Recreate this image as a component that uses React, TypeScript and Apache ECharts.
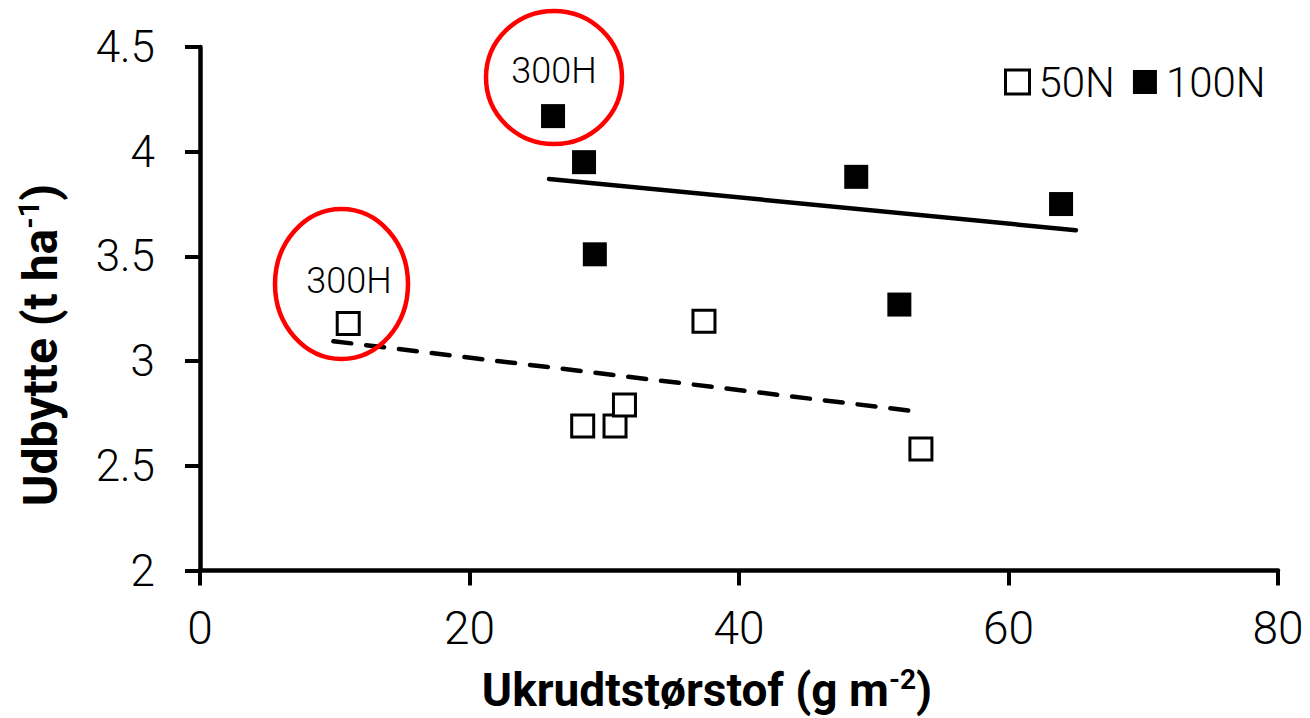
import React, { useEffect, useRef } from "react";
import * as echarts from "echarts";

const xTicks = [0, 20, 40, 60, 80];
const yTicks = [2, 2.5, 3, 3.5, 4, 4.5];

const seriesNames = ["50N", "100N"];
const n50X = [11.0, 28.4, 30.8, 31.5, 37.4, 53.5];
const n50Y = [3.18, 2.69, 2.69, 2.79, 3.19, 2.58];
const n100X = [26.2, 28.5, 29.3, 48.7, 51.9, 63.9];
const n100Y = [4.17, 3.95, 3.51, 3.88, 3.27, 3.75];

const trend50X = [9.9, 53.1];
const trend50Y = [3.095, 2.76];
const trend100X = [25.9, 65.0];
const trend100Y = [3.87, 3.625];

const annotationText = "300H";
const xTitle = ["Ukrudtstørstof (g m", "-2", ")"];
const yTitle = ["Udbytte (t ha", "-1", ")"];

const zip = (xs: number[], ys: number[]) => xs.map((x, i) => [x, ys[i]]);

const FONT = "Roboto, 'Noto Sans', sans-serif";

export default function App() {
  const ref = useRef<HTMLDivElement>(null);
  useEffect(() => {
    if (!ref.current) return;
    const chart = echarts.init(ref.current, undefined, { renderer: "svg" });
    const option: any = {
      animation: false,
      backgroundColor: "#ffffff",
      grid: { left: 200, top: 47, width: 1078, height: 523.5, containLabel: false },
      xAxis: {
        type: "value",
        min: xTicks[0],
        max: xTicks[xTicks.length - 1],
        interval: xTicks[1] - xTicks[0],
        axisLine: { show: true, onZero: false, lineStyle: { color: "#000", width: 4.5 } },
        axisTick: { show: true, inside: false, length: 15, lineStyle: { color: "#000", width: 4 } },
        axisLabel: {
          margin: 34,
          color: "#000",
          fontSize: 46,
          fontFamily: FONT,
          fontWeight: 300,
          showMinLabel: true,
          showMaxLabel: true,
        },
        splitLine: { show: false },
      },
      yAxis: {
        type: "value",
        min: yTicks[0],
        max: yTicks[yTicks.length - 1],
        interval: yTicks[1] - yTicks[0],
        axisLine: { show: true, onZero: false, lineStyle: { color: "#000", width: 4.5 } },
        axisTick: { show: true, inside: false, length: 15, lineStyle: { color: "#000", width: 4 } },
        axisLabel: {
          margin: 45,
          color: "#000",
          fontSize: 44,
          fontFamily: FONT,
          fontWeight: 300,
          showMinLabel: true,
          showMaxLabel: true,
        },
        splitLine: { show: false },
      },
      legend: {
        data: [
          { name: seriesNames[0] },
          { name: seriesNames[1], itemStyle: { borderWidth: 0 } },
        ],
        left: 999,
        top: 56,
        itemWidth: 24,
        itemHeight: 24,
        itemGap: 18,
        itemStyle: { borderWidth: 3 },
        textStyle: { fontSize: 42, fontFamily: FONT, fontWeight: 300, color: "#000", padding: [0, 0, 0, 4] },
        selectedMode: false,
      },
      series: [
        {
          name: seriesNames[0],
          type: "scatter",
          symbol: "rect",
          symbolSize: 22,
          itemStyle: { color: "#ffffff", borderColor: "#000", borderWidth: 3, opacity: 1 },
          data: zip(n50X, n50Y),
          z: 3,
        },
        {
          name: seriesNames[1],
          type: "scatter",
          symbol: "rect",
          symbolSize: 24,
          itemStyle: { color: "#000", opacity: 1 },
          data: zip(n100X, n100Y),
          z: 3,
        },
        {
          name: "trend100",
          type: "line",
          showSymbol: false,
          symbol: "none",
          lineStyle: { color: "#000", width: 4.5, cap: "round" },
          data: zip(trend100X, trend100Y),
          z: 2,
        },
        {
          name: "trend50",
          type: "line",
          showSymbol: false,
          symbol: "none",
          lineStyle: { color: "#000", width: 4.5, type: [18, 15], cap: "round" },
          data: zip(trend50X, trend50Y),
          z: 2,
        },
      ],
      graphic: [
        {
          type: "ellipse",
          shape: { cx: 554, cy: 77.5, rx: 68, ry: 66.5 },
          style: { fill: "none", stroke: "#ff0000", lineWidth: 4.5 },
          z: 10,
        },
        {
          type: "ellipse",
          shape: { cx: 341.5, cy: 284, rx: 66.5, ry: 75 },
          style: { fill: "none", stroke: "#ff0000", lineWidth: 4.5 },
          z: 10,
        },
        {
          type: "text",
          x: 554,
          y: 71,
          style: {
            text: annotationText,
            font: `300 36px ${FONT}`,
            fill: "#000",
            textAlign: "center",
            textVerticalAlign: "middle",
          },
          z: 10,
        },
        {
          type: "text",
          x: 349,
          y: 281,
          style: {
            text: annotationText,
            font: `300 36px ${FONT}`,
            fill: "#000",
            textAlign: "center",
            textVerticalAlign: "middle",
          },
          z: 10,
        },
        {
          type: "text",
          x: 707,
          y: 690,
          style: {
            text: `{a|${xTitle[0]}}{s|${xTitle[1]}}{a|${xTitle[2]}}`,
            textAlign: "center",
            textVerticalAlign: "middle",
            rich: {
              a: { fontSize: 46, fontWeight: "bold", fontFamily: FONT, fill: "#000", lineHeight: 50 },
              s: { fontSize: 28, fontWeight: "bold", fontFamily: FONT, fill: "#000", lineHeight: 30, verticalAlign: "top" },
            },
          },
          z: 10,
        },
        {
          type: "text",
          x: 40,
          y: 345,
          rotation: Math.PI / 2,
          style: {
            text: `{a|${yTitle[0]}}{s|${yTitle[1]}}{a|${yTitle[2]}}`,
            textAlign: "center",
            textVerticalAlign: "middle",
            rich: {
              a: { fontSize: 48, fontWeight: "bold", fontFamily: FONT, fill: "#000", lineHeight: 52 },
              s: { fontSize: 29, fontWeight: "bold", fontFamily: FONT, fill: "#000", lineHeight: 30, verticalAlign: "top" },
            },
          },
          z: 10,
        },
      ],
    };
    chart.setOption(option);
    return () => chart.dispose();
  }, []);
  return (
    <div
      ref={ref}
      style={{ position: "absolute", left: 0, top: 0, width: 1310, height: 718, background: "#fff" }}
    />
  );
}
